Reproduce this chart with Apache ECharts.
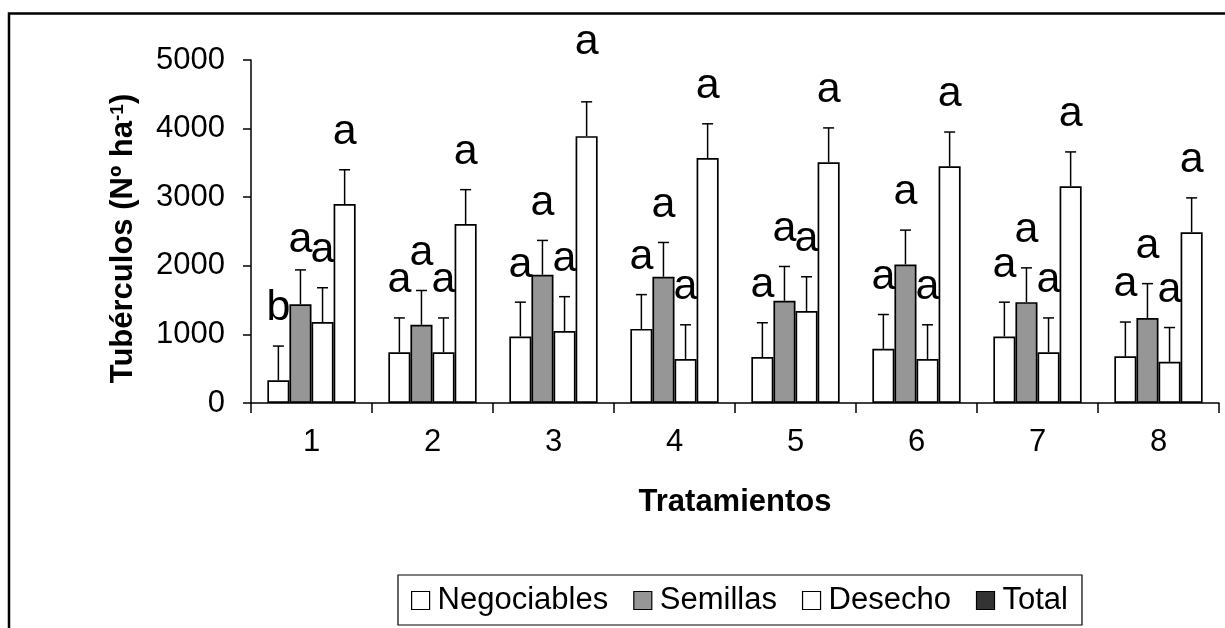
<!DOCTYPE html>
<html>
<head>
<meta charset="utf-8">
<script src="https://cdn.jsdelivr.net/npm/echarts@6/dist/echarts.min.js"></script>
<style>
html,body{margin:0;padding:0;background:#fff;}
#chart{width:1225px;height:628px;}
</style>
</head>
<body>
<div id="chart"></div>
<script>
const categories = ['1','2','3','4','5','6','7','8'];
const seriesNames = ['Negociables','Semillas','Desecho','Total'];
const negociables = [330, 740, 970, 1080, 670, 790, 970, 680];
const semillas    = [1440, 1140, 1870, 1840, 1490, 2020, 1470, 1240];
const desecho     = [1180, 740, 1050, 640, 1340, 640, 740, 600];
const total       = [2900, 2610, 3890, 3570, 3510, 3450, 3160, 2490];
const errNegociables = [500, 500, 500, 500, 500, 500, 500, 500];
const errSemillas    = [500, 500, 500, 500, 500, 500, 500, 500];
const errDesecho     = [500, 500, 500, 500, 500, 500, 500, 500];
const errTotal       = [500, 500, 500, 500, 500, 500, 500, 500];
const letNegociables = ['b','a','a','a','a','a','a','a'];
const letSemillas    = ['a','a','a','a','a','a','a','a'];
const letDesecho     = ['a','a','a','a','a','a','a','a'];
const letTotal       = ['a','a','a','a','a','a','a','a'];
const yTicks = [0, 1000, 2000, 3000, 4000, 5000];

const FONT = "'Liberation Sans', Arial, sans-serif";
const values = [negociables, semillas, desecho, total];
const errors = [errNegociables, errSemillas, errDesecho, errTotal];
const letters = [letNegociables, letSemillas, letDesecho, letTotal];
const fills = ['#ffffff', '#969696', '#ffffff', '#ffffff'];
const legendFills = ['#ffffff', '#969696', '#ffffff', '#333333'];
const CAT_GAP = 0.27;
// extra vertical nudge for specific letter labels (series-category), in pixels
const labelNudge = {'3-2': -22, '1-0': 8};

const chart = echarts.init(document.getElementById('chart'), null, {renderer: 'canvas'});

const series = [];
values.forEach((vals, s) => {
  series.push({
    name: seriesNames[s],
    type: 'bar',
    data: vals,
    barGap: '0%',
    barCategoryGap: (CAT_GAP * 100) + '%',
    itemStyle: {color: fills[s], borderColor: '#000', borderWidth: 1.7},
    emphasis: {disabled: true},
    z: 2
  });
});
values.forEach((vals, s) => {
  series.push({
    name: 'err' + s,
    type: 'custom',
    clip: false,
    z: 5,
    data: vals.map((v, i) => [i, v, errors[s][i]]),
    encode: {x: 0, y: 1},
    renderItem: function (params, api) {
      const ci = api.value(0);
      const v = api.value(1);
      const e = api.value(2);
      const letter = letters[s][ci];
      const base = api.coord([ci, v]);
      const top = api.coord([ci, v + e]);
      const band = api.size([1, 0])[0];
      const bw = band * (1 - CAT_GAP) / 4;
      const x = base[0] + (s - 1.5) * bw;
      const nudge = labelNudge[s + '-' + ci] || 0;
      return {
        type: 'group',
        children: [
          {type: 'line', shape: {x1: x, y1: base[1], x2: x, y2: top[1]}, style: {stroke: '#000', lineWidth: 1.5}},
          {type: 'line', shape: {x1: x - 5.5, y1: top[1], x2: x + 5.5, y2: top[1]}, style: {stroke: '#000', lineWidth: 1.5}},
          {type: 'text', x: x, y: top[1] - 16 + nudge, style: {text: letter, fontSize: 43, fontFamily: FONT, fill: '#000', align: 'center', verticalAlign: 'bottom'}}
        ]
      };
    }
  });
});

const option = {
  animation: false,
  backgroundColor: '#fff',
  textStyle: {fontFamily: FONT, color: '#000'},
  graphic: [{
    type: 'rect',
    shape: {x: 9, y: 13.5, width: 1240, height: 700},
    style: {fill: 'none', stroke: '#000', lineWidth: 2.5},
    z: 100, silent: true
  }],
  grid: {left: 251, right: 6, top: 60, bottom: 225, containLabel: false},
  legend: {
    data: seriesNames.map((n, i) => ({name: n, itemStyle: {color: legendFills[i], borderColor: '#000', borderWidth: 1.2}})),
    left: 398, top: 575,
    orient: 'horizontal',
    icon: 'rect',
    itemWidth: 18, itemHeight: 18,
    itemGap: 25,
    padding: [10, 14, 9, 13],
    borderColor: '#000', borderWidth: 1.2,
    backgroundColor: '#fff',
    selectedMode: false,
    textStyle: {fontSize: 31, fontFamily: FONT, color: '#000', padding: [0, 0, 0, 3]}
  },
  xAxis: {
    type: 'category',
    data: categories,
    name: 'Tratamientos',
    nameLocation: 'middle',
    nameGap: 84,
    nameTextStyle: {fontSize: 31, fontWeight: 'bold', fontFamily: FONT, color: '#000'},
    axisLine: {lineStyle: {color: '#000', width: 1.5}},
    axisTick: {show: true, alignWithLabel: false, length: 10, lineStyle: {color: '#000', width: 1.5}},
    axisLabel: {fontSize: 31, color: '#000', fontFamily: FONT, margin: 24},
    splitLine: {show: false}
  },
  yAxis: {
    type: 'value',
    min: yTicks[0], max: yTicks[yTicks.length - 1], interval: 1000,
    name: 'Tubérculos (Nº ha{sup|-1})',
    nameLocation: 'middle',
    nameRotate: 90,
    nameGap: 112,
    nameTextStyle: {
      fontSize: 31, fontWeight: 'bold', fontFamily: FONT, color: '#000',
      padding: [0, 14, 0, 0],
      rich: {sup: {fontSize: 19, fontWeight: 'bold', fontFamily: FONT, color: '#000', verticalAlign: 'top'}}
    },
    axisLine: {show: true, lineStyle: {color: '#000', width: 1.5}},
    axisTick: {show: true, length: 8, lineStyle: {color: '#000', width: 1.5}},
    axisLabel: {fontSize: 31, color: '#000', fontFamily: FONT, margin: 26, formatter: function (v) { return String(v); }},
    splitLine: {show: false}
  },
  series: series
};
chart.setOption(option);
</script>
</body>
</html>
